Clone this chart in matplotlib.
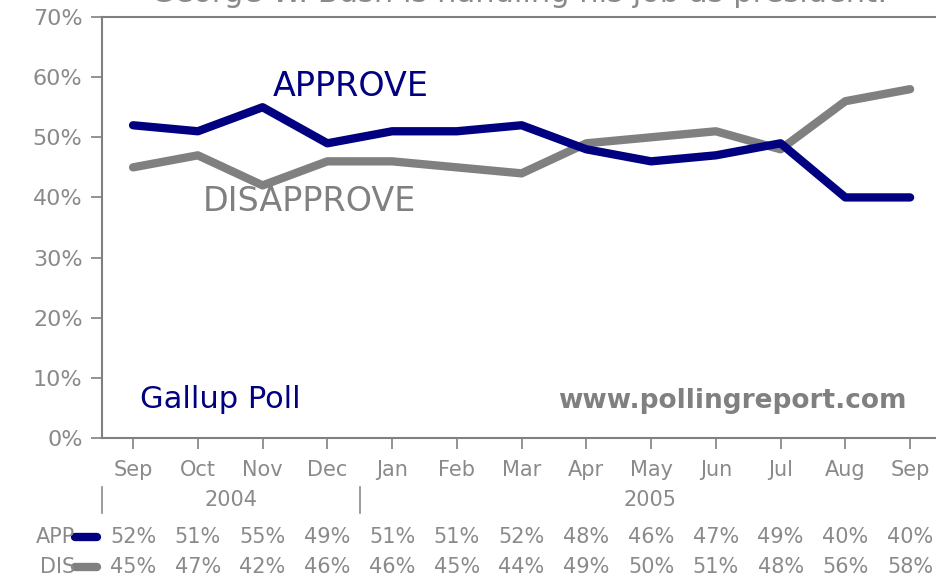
import matplotlib.pyplot as plt

# data
months = ['Sep', 'Oct', 'Nov', 'Dec', 'Jan', 'Feb', 'Mar', 'Apr', 'May', 'Jun', 'Jul', 'Aug', 'Sep']
approve = [52, 51, 55, 49, 51, 51, 52, 48, 46, 47, 49, 40, 40]
disapprove = [45, 47, 42, 46, 46, 45, 44, 49, 50, 51, 48, 56, 58]
years = ['2004', '2005']
year_spans = [(-0.48, 3.5), (3.5, 12.48)]

navy = '#000080'
gray = '#808080'
text_gray = '#8a8a8a'

fig = plt.figure(figsize=(9.36, 5.83), dpi=100)
ax = fig.add_axes([102 / 936, 1 - 438 / 583, 1 - 102 / 936, (438 - 17) / 583])

x = list(range(len(months)))
ax.plot(x, disapprove, color=gray, lw=6, solid_capstyle='round', solid_joinstyle='round')
ax.plot(x, approve, color=navy, lw=6, solid_capstyle='round', solid_joinstyle='round')

ax.set_xlim(-0.48, 12.40)
ax.set_ylim(0, 70)
ax.set_yticks(range(0, 71, 10))
ax.set_yticklabels([f'{v}%' for v in range(0, 71, 10)], fontsize=16, color=text_gray)
ax.set_xticks(x)
ax.set_xticklabels([])
ax.tick_params(axis='both', color=gray, length=8, width=1.2, direction='out')
ax.tick_params(axis='y', pad=6)
for s in ['left', 'top', 'bottom']:
    ax.spines[s].set_color(gray)
    ax.spines[s].set_linewidth(1.5)
ax.spines['right'].set_visible(False)

# series labels and notes
ax.text(2.15, 58.5, 'APPROVE', color=navy, fontsize=24, ha='left', va='center')
ax.text(1.08, 39.3, 'DISAPPROVE', color=gray, fontsize=24, ha='left', va='center')
ax.text(0.1, 6.4, 'Gallup Poll', color=navy, fontsize=22, ha='left', va='center')
ax.text(11.95, 6.2, 'www.pollingreport.com',
        color=gray, fontsize=19, fontweight='bold', ha='right', va='center')

fig.text(0.555, 1 - 2 / 583, 'George W. Bush is handling his job as president:',
         color=text_gray, fontsize=22, ha='center', va='baseline')

# category table under the axis
tr = ax.get_xaxis_transform()
def yfrac(py):
    return (438 - py) / 421

for i, m in enumerate(months):
    ax.text(i, yfrac(470), m, transform=tr, ha='center', va='center', fontsize=15, color=text_gray, clip_on=False)
    ax.text(i, yfrac(537), f'{approve[i]}%', transform=tr, ha='center', va='center', fontsize=15, color=text_gray, clip_on=False)
    ax.text(i, yfrac(567), f'{disapprove[i]}%', transform=tr, ha='center', va='center', fontsize=15, color=text_gray, clip_on=False)

for (a, b), yr in zip(year_spans, years):
    ax.text((a + b) / 2, yfrac(500), yr, transform=tr, ha='center', va='center', fontsize=15, color=text_gray, clip_on=False)
for sx in [-0.48, 3.5]:
    ax.plot([sx, sx], [yfrac(487), yfrac(513)], transform=tr, color=text_gray, lw=1.2, clip_on=False)

for yy, lab, col in [(537, 'APP', navy), (567, 'DIS', gray)]:
    ax.plot([-0.9, -0.55], [yfrac(yy), yfrac(yy)], transform=tr, color=col, lw=6,
            solid_capstyle='round', clip_on=False)
    ax.text(-0.9, yfrac(yy), lab, transform=tr, ha='right', va='center', fontsize=15,
            color=text_gray, clip_on=False)

fig.savefig('out.png', dpi=100)
